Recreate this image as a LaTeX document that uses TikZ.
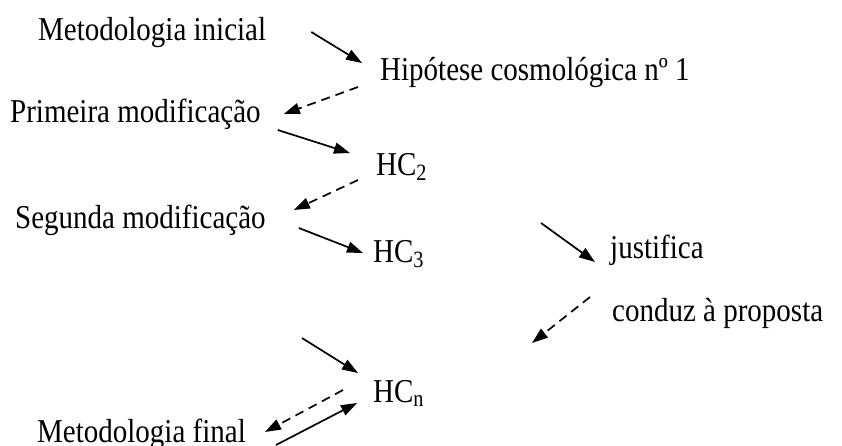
\documentclass[tikz,border=0pt]{standalone}
\usepackage{fontspec}
\setmainfont{Liberation Serif}
\usetikzlibrary{arrows.meta}

\newcommand{\tall}[1]{\scalebox{1}[1.15]{#1}}

\begin{document}
\begin{tikzpicture}[
  x=1pt, y=-1pt,
  label/.style = {
    inner sep=0pt, anchor=base west,
    font=\fontsize{29}{34}\selectfont
  },
  leads/.style = {
    line width=1.7pt,
    -{Triangle[length=16pt, width=11pt]}
  },
  proposes/.style = {
    leads, dash pattern=on 9pt off 6pt
  }
]
\useasboundingbox (0,0) rectangle (842,445);

\node[label] (ini) at (38,40) {\tall{Metodologia inicial}};
\node[label] (hc1) at (380,80) {\tall{Hipótese cosmológica nº 1}};
\node[label] (prim) at (10,122) {\tall{Primeira modificação}};
\node[label] (hc2) at (376,175) {\tall{HC\textsubscript{2}}};
\node[label] (seg) at (15,228) {\tall{Segunda modificação}};
\node[label] (hc3) at (373,262) {\tall{HC\textsubscript{3}}};
\node[label] (just) at (610,258) {\tall{justifica}};
\node[label] (conduz) at (612,321) {\tall{conduz à proposta}};
\node[label] (hcn) at (373,402) {\tall{HC\textsubscript{n}}};
\node[label] (fin) at (37,442) {\tall{Metodologia final}};

\draw[leads] ([shift={(45,-8)}]ini.base east) -- ([shift={(-18,-17)}]hc1.base west);
\draw[proposes] ([shift={(-22,7)}]hc1.base west) -- ([shift={(23,-8)}]prim.base east);
\draw[leads] ([shift={(17,8)}]prim.base east) -- ([shift={(-26,-22)}]hc2.base west);
\draw[proposes] ([shift={(-18,5)}]hc2.base west) -- ([shift={(28,-18)}]seg.base east);
\draw[leads] ([shift={(33,0)}]seg.base east) -- ([shift={(-10,-9)}]hc3.base west);

\draw[leads] ([shift={(-69,-35)}]just.base west) -- ([shift={(-15,4)}]just.base west);
\draw[proposes] ([shift={(-22,-24)}]conduz.base west) -- ([shift={(-80,22)}]conduz.base west);

\draw[leads] ([shift={(-71,-64)}]hcn.base west) -- ([shift={(-15,-29)}]hcn.base west);
\draw[proposes] ([shift={(-30,-12)}]hcn.base west) -- ([shift={(19,-10)}]fin.base east);
\draw[leads] ([shift={(30,3)}]fin.base east) -- ([shift={(-16,1)}]hcn.base west);

\end{tikzpicture}
\end{document}
